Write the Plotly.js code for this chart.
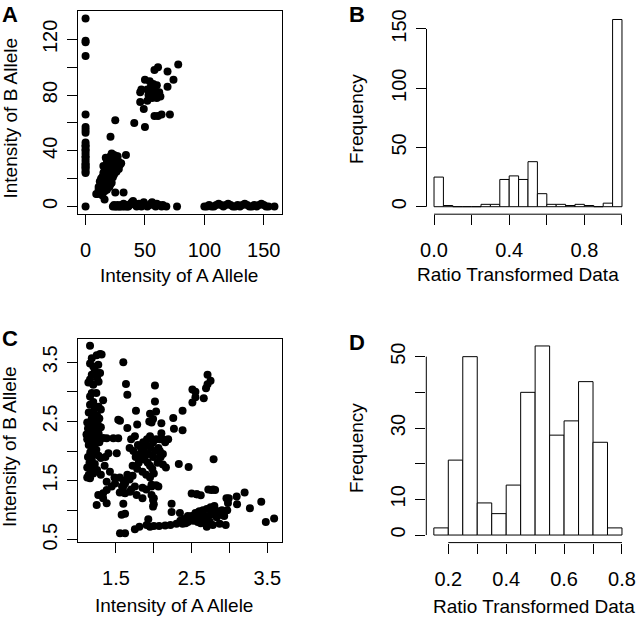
<!DOCTYPE html>
<html>
<head>
<meta charset="utf-8">
<script src="https://cdn.plot.ly/plotly-3.0.1.min.js"></script>
<style>
  html, body { margin: 0; padding: 0; background: #fff; }
  #plot { width: 640px; height: 618px; }
</style>
</head>
<body>
<div id="plot"></div>
<script>
// panel A: raw intensities, [A allele, B allele]
const aColumn = [[0,135],[0,119],[0,118],[0,108],[0,66],[0,57],[0,55],[0,53],[0,46],[0,44],[0,43],[0,41],
  [0,40],[0,38],[0,36],[0,35],[0,33],[0,31],[0,30],[0,29],[0,28],[0,27],[0,25],[0,24],[0,0]];
const aCluster = [[10,9],[12,11],[11,14],[13,13],[14,12],[15,15],[13,16],[12,18],[14,17],[16,14],[17,16],[15,19],
  [14,21],[16,18],[18,17],[17,20],[16,22],[19,19],[18,21],[20,18],[15,24],[17,23],[19,22],[21,20],[18,25],[20,24],
  [22,22],[16,26],[19,27],[21,26],[23,24],[17,29],[20,29],[22,28],[24,27],[19,31],[21,31],[23,30],[25,29],[18,33],
  [20,34],[22,33],[24,32],[26,31],[21,36],[23,35],[25,34],[27,33],[22,38],[24,37],[26,36],[28,32],[27,29],[25,26],
  [23,21],[20,14],[18,12],[22,17],[24,23],[26,25],[28,27],[29,30],[30,31],[27,36],[21,16],[13,20],[11,12],[16,11],
  [14,8],[19,15],[15,29],[17,35],[9,9],[16,5],[21,50],[25,62],[34,37],[25,10],[32,10]];
const aUpper = [[41,60],[50,57],[46,82],[46,75],[49,70],[50,91],[52,84],[53,80],[55,86],[57,88],[59,81],[60,78],
  [56,78],[58,65],[61,65],[64,66],[58,98],[61,100],[62,82],[63,79],[69,97],[69,86],[71,66],[74,91],[78,102],
  [47,84],[52,76],[57,84],[54,90],[60,87],[55,82]];
const aBottom = [[23,0],[24,1],[25,0],[26,0],[27,1],[28,0],[29,0],[30,1],[31,0],[32,2],[33,0],[34,1],[35,0],
  [36,0],[37,1],[38,2],[39,3],[40,4],[41,2],[42,1],[43,0],[44,1],[45,2],[46,1],[47,0],[48,2],[49,3],[50,1],
  [52,0],[54,1],[55,2],[56,3],[58,1],[59,0],[60,2],[62,1],[64,0],[65,1],[68,0],[77,0],
  [100,0],[102,0],[104,1],[106,0],[108,0],[110,1],[112,2],[114,1],[116,0],[118,1],[120,2],[122,1],[124,0],
  [126,0],[128,1],[130,0],[132,1],[134,2],[136,1],[138,0],[140,0],[142,1],[144,0],[146,1],[148,2],[150,1],
  [152,0],[154,0],[159,0]];

// panel B: histogram of ratio, bins of 0.05
const binsB = [0.025,0.075,0.125,0.175,0.225,0.275,0.325,0.375,0.425,0.475,
  0.525,0.575,0.625,0.675,0.725,0.775,0.825,0.875,0.925,0.975];
const countsB = [25,1,0,0,0,2,2,23,26,23,38,11,2,2,1,2,1,0,3,158];

// panel C: transformed intensities
const cLeft = [[1.157,3.78],[1.18,3.57],[1.245,3.62],[1.29,3.64],[1.31,3.63],[1.157,3.48],[1.2,3.43],[1.266,3.46],
  [1.26,3.32],[1.18,3.29],[1.29,3.32],[1.22,3.36],[1.157,3.21],[1.135,3.16],[1.2,3.12],[1.27,3.17],[1.25,3.24],
  [1.18,2.98],[1.24,2.98],[1.157,2.92],[1.33,2.86],[1.2,2.83],[1.157,2.78],[1.22,2.72],[1.27,2.75],[1.3,2.7],
  [1.14,2.65],[1.2,2.62],[1.25,2.6],[1.18,2.55],[1.23,2.52],[1.28,2.55],[1.12,2.48],[1.16,2.45],[1.21,2.42],
  [1.26,2.45],[1.3,2.4],[1.13,2.38],[1.18,2.35],[1.23,2.33],[1.27,2.3],[1.11,2.28],[1.15,2.25],[1.2,2.22],
  [1.25,2.2],[1.12,2.2],[1.17,2.15],[1.22,2.12],[1.28,2.15],[1.14,2.1],[1.19,2.05],[1.24,2.02],[1.16,1.98],
  [1.21,1.95],[1.27,1.92],[1.13,1.9],[1.18,1.85],[1.3,1.88],[1.15,1.8],[1.22,1.78],[1.12,1.72],[1.17,1.7],
  [1.25,1.68],[1.14,1.6],[1.12,1.55],[1.157,1.54],[1.2,1.62],[1.377,2.216],[1.465,2.216],[1.53,2.216],[1.33,2.22],
  [1.53,2.53],[1.4,1.96],[1.51,1.96],[1.377,1.48],[1.443,1.4],[1.266,1.256],[1.33,1.285],[1.245,1.087],[1.377,1.116],
  [1.35,1.75],[1.3,1.6],[1.42,1.65],[1.48,1.55],[1.36,1.9]];
const cMiddle = [[1.597,3.5],[1.632,3.134],[1.65,2.95],[2.015,3.106],[2.015,2.835],[1.764,2.68],[1.95,2.63],
  [1.99,2.54],[2.03,2.67],[1.94,2.5],[1.97,2.48],[2.1,2.47],[2.257,2.56],[2.38,2.68],[2.266,2.375],[2.38,2.35],
  [1.65,2.39],[1.78,2.45],[1.553,2.51],[1.79,2.1],[1.83,2.05],[1.87,2.0],[1.9,2.1],[1.93,1.95],[1.96,2.05],
  [1.99,1.9],[2.02,2.0],[1.85,1.9],[1.88,1.85],[1.92,1.8],[1.95,1.75],[1.98,1.7],[1.82,1.95],[1.86,2.15],
  [1.91,2.2],[1.95,2.25],[1.99,2.15],[2.03,2.2],[1.8,1.8],[1.76,1.9],[1.73,2.0],[1.7,2.2],[1.75,2.25],[1.68,2.05],
  [1.72,1.75],[1.78,1.7],[1.85,1.65],[1.9,1.6],[1.95,1.55],[2.0,1.62],[2.05,1.8],[2.08,1.9],[2.06,2.05],[2.1,2.3],
  [2.15,2.15],[2.08,2.2],[2.12,2.2],[2.19,2.2],[2.08,2.0],[2.12,1.95],[2.09,1.9],[2.12,1.77],[2.16,1.72],
  [2.33,1.78],[2.46,1.73],[2.79,1.86],[1.55,1.55],[1.6,1.5],[1.65,1.6],[1.68,1.52],[1.72,1.58],[1.62,1.45],
  [1.58,1.4],[1.75,1.4],[1.85,1.38],[1.9,1.35],[1.97,1.4],[2.03,1.42],[1.55,1.3],[1.6,1.3],[1.7,1.35],
  [2.76,1.34],[2.81,1.34],[2.57,1.27],[2.62,1.25],[1.85,1.2],[2.0,1.2],[2.0,1.1],[2.99,1.2],
  [2.51,3.04],[2.55,3.0],[2.51,2.82],[2.55,2.91],[2.66,2.89],[2.69,3.06],[2.71,3.13],[2.75,3.19],[2.71,3.29],
  [1.377,1.34],[1.487,1.45],[1.597,1.4],[1.62,1.285],[1.685,1.31],[1.773,1.255],[1.97,1.255],[1.99,1.17],
  [1.99,1.06],[2.06,1.4],[1.97,1.43],[1.597,1.11],[1.62,0.94],[1.575,0.92],[1.33,1.2]];
const cLower = [[1.553,0.608],[1.62,0.608],[1.75,0.676],[1.81,0.72],[1.905,0.75],[1.927,0.845],[1.95,0.72],
  [2.0,0.73],[2.07,0.73],[2.15,0.74],[2.22,0.75],[2.3,0.77],[2.38,0.77],[2.45,0.8],[2.52,0.82],[2.56,0.86],
  [2.6,0.88],[2.64,0.9],[2.68,0.88],[2.72,0.9],[2.76,0.92],[2.8,0.95],[2.85,0.98],[2.9,1.0],[2.5,0.9],
  [2.55,0.95],[2.6,0.98],[2.65,1.0],[2.7,1.02],[2.75,1.05],[2.8,1.07],[2.58,0.8],[2.62,0.78],[2.66,0.82],
  [2.7,0.85],[2.74,0.8],[2.78,0.75],[2.7,0.72],[2.87,0.77],[2.95,0.75],[2.93,0.9],[2.97,1.0],[2.235,0.97],
  [2.345,0.95],[2.235,1.11],[2.4,0.85],[2.45,0.9],[2.566,1.27],[2.5,1.28],[2.72,1.35],[2.785,1.35],[2.96,1.2],
  [2.98,1.12],[3.095,1.23],[3.1,1.1],[3.2,1.3],[3.27,1.03],[3.42,1.14],[3.48,0.8],[3.59,0.86],[2.35,0.82],
  [2.42,0.78],[2.83,0.88],[2.88,0.92]];

// panel D: histogram of ratio, bins of 0.05
const binsD = [0.175,0.225,0.275,0.325,0.375,0.425,0.475,0.525,0.575,0.625,0.675,0.725,0.775];
const countsD = [2,21,50,9,6,14,40,53,28,32,43,26,2];

const FONT = 'Liberation Sans, Arial, Helvetica, sans-serif';
const W = 640, H = 618;
const px = x => x / W;
const py = y => 1 - y / H;

const ptsA = aColumn.concat(aCluster, aUpper, aBottom);
const ptsC = cLeft.concat(cMiddle, cLower);

const dot = { color: '#000', size: 8, line: { width: 0 } };
const barStyle = { color: '#fff', line: { color: '#000', width: 1 } };

const data = [
  { type: 'scatter', mode: 'markers', x: ptsA.map(p => p[0]), y: ptsA.map(p => p[1]),
    marker: dot, xaxis: 'x', yaxis: 'y' },
  { type: 'bar', x: binsB, y: countsB, width: 0.05, marker: barStyle, xaxis: 'x2', yaxis: 'y2' },
  { type: 'scatter', mode: 'markers', x: ptsC.map(p => p[0]), y: ptsC.map(p => p[1]),
    marker: dot, xaxis: 'x3', yaxis: 'y3' },
  { type: 'bar', x: binsD, y: countsD, width: 0.05, marker: barStyle, xaxis: 'x4', yaxis: 'y4' }
];

function ax(domain, range, vals, text, opts) {
  return Object.assign({
    domain: domain, range: range, autorange: false,
    tickmode: 'array', tickvals: vals, ticktext: text,
    ticks: 'outside', ticklen: 10, tickwidth: 1, tickcolor: '#000',
    showgrid: false, zeroline: false,
    showline: false, linecolor: '#000', linewidth: 1,
    tickfont: { family: FONT, size: 20, color: '#000' }
  }, opts || {});
}
const box = { showline: true, mirror: true };
const xlab = { ticklabelstandoff: 8 };
const ylab = { tickangle: -90, ticklabelstandoff: 2 };

const txt = { family: FONT, size: 19, color: '#000' };

const layout = {
  width: W, height: H,
  margin: { l: 0, r: 0, t: 0, b: 0 },
  paper_bgcolor: '#fff', plot_bgcolor: '#fff',
  showlegend: false, hovermode: false, bargap: 0,
  font: txt,

  xaxis: ax([px(78), px(282)], [-6.36, 165.36], [0, 50, 100, 150], ['0', '50', '100', '150'],
    Object.assign({ anchor: 'y' }, box, xlab)),
  yaxis: ax([py(214), py(11)], [-5.4, 140.4], [0, 20, 40, 60, 80, 100, 120], ['0', '', '40', '', '80', '', '120'],
    Object.assign({ anchor: 'x' }, box, ylab)),

  xaxis2: ax([px(426.5), px(629.5)], [-0.04, 1.04], [0, 0.2, 0.4, 0.6, 0.8, 1.0], ['0.0', '', '0.4', '', '0.8', ''],
    Object.assign({ anchor: 'y2' }, xlab)),
  yaxis2: ax([py(214.2), py(12)], [-6.32, 164.32], [0, 50, 100, 150], ['0', '50', '100', '150'],
    Object.assign({ anchor: 'x2' }, ylab)),

  xaxis3: ax([px(78.3), px(282.3)], [1.002, 3.698], [1.5, 2.0, 2.5, 3.0, 3.5], ['1.5', '', '2.5', '', '3.5'],
    Object.assign({ anchor: 'y3' }, box, xlab)),
  yaxis3: ax([py(542.3), py(339)], [0.456, 3.894], [0.5, 1.0, 1.5, 2.0, 2.5, 3.0, 3.5], ['0.5', '', '1.5', '', '2.5', '', '3.5'],
    Object.assign({ anchor: 'x3' }, box, ylab)),

  xaxis4: ax([px(426.3), px(629.5)], [0.124, 0.826], [0.2, 0.3, 0.4, 0.5, 0.6, 0.7, 0.8], ['0.2', '', '0.4', '', '0.6', '', '0.8'],
    Object.assign({ anchor: 'y4' }, xlab)),
  yaxis4: ax([py(542.6), py(338.4)], [-2.12, 55.12], [0, 10, 20, 30, 40, 50], ['0', '10', '', '30', '', '50'],
    Object.assign({ anchor: 'x4' }, ylab)),

  // R-style axis lines for the histograms: only between first and last tick
  shapes: [
    { type: 'line', xref: 'x2', yref: 'y2 domain', x0: 0, x1: 1, y0: 0, y1: 0, line: { color: '#000', width: 1 } },
    { type: 'line', xref: 'x2 domain', yref: 'y2', x0: 0, x1: 0, y0: 0, y1: 150, line: { color: '#000', width: 1 } },
    { type: 'line', xref: 'x4', yref: 'y4 domain', x0: 0.2, x1: 0.8, y0: 0, y1: 0, line: { color: '#000', width: 1 } },
    { type: 'line', xref: 'x4 domain', yref: 'y4', x0: 0, x1: 0, y0: 0, y1: 50, line: { color: '#000', width: 1 } }
  ],

  annotations: [
    // axis titles
    { text: 'Intensity of A Allele', x: px(178.7), y: py(275) },
    { text: 'Intensity of B Allele', x: px(9.5), y: py(118), textangle: -90 },
    { text: 'Ratio Transformed Data', x: px(517.7), y: py(274.7) },
    { text: 'Frequency', x: px(356), y: py(119), textangle: -90 },
    { text: 'Intensity of A Allele', x: px(174.2), y: py(605.7) },
    { text: 'Intensity of B Allele', x: px(9), y: py(447), textangle: -90 },
    { text: 'Ratio Transformed Data', x: px(533.5), y: py(606.5) },
    { text: 'Frequency', x: px(356), y: py(448), textangle: -90 },
    // panel letters (top two hang from the page edge)
    { text: '<b>A</b>', x: px(9.5), y: 1, size: 22, yanchor: 'top' },
    { text: '<b>B</b>', x: px(357), y: 1, size: 22, yanchor: 'top' },
    { text: '<b>C</b>', x: px(10), y: py(338), size: 22 },
    { text: '<b>D</b>', x: px(357), y: py(342.3), size: 22 }
  ].map(a => ({
    text: a.text, x: a.x, y: a.y, textangle: a.textangle || 0,
    xref: 'paper', yref: 'paper', showarrow: false,
    xanchor: 'center', yanchor: a.yanchor || 'middle',
    font: Object.assign({}, txt, { size: a.size || 19 })
  }))
};

Plotly.newPlot('plot', data, layout, { staticPlot: true, displayModeBar: false });
</script>
</body>
</html>
